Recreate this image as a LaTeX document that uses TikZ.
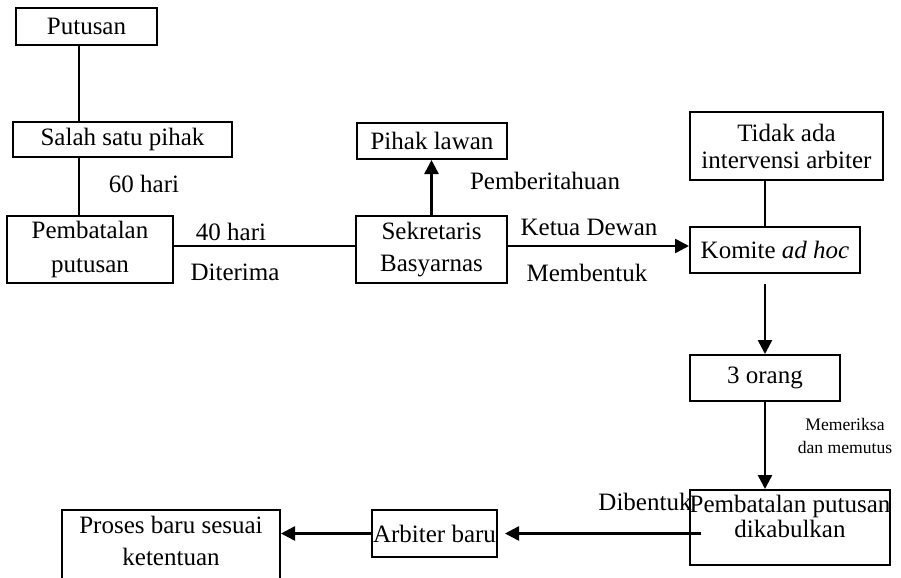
\documentclass[tikz,border=0pt]{standalone}
\usepackage{fontspec}
\setmainfont{Liberation Serif}
\usetikzlibrary{arrows.meta}
\begin{document}
\begin{tikzpicture}[x=0.5pt,y=-0.5pt,
  every node/.style={font=\fontsize{12.5pt}{16pt}\selectfont},
  box/.style={draw, line width=1pt, inner sep=0pt, align=center},
  lbl/.style={inner sep=0pt, align=center},
  small/.style={inner sep=0pt, align=center, font=\fontsize{8.8pt}{11.5pt}\selectfont},
  link/.style={line width=1pt},
  flow/.style={line width=1.3pt, -{Triangle[length=7pt,width=7pt]}}]
\clip (0,0) rectangle (901,578);

% boxes
\node[box, minimum width=70.5pt, minimum height=18.5pt] (put) at (86.5,26.5) {Putusan};
\node[box, minimum width=109.5pt, minimum height=17.5pt] (salah) at (122.5,139.5) {Salah satu pihak};
\node[box, minimum width=83pt, minimum height=33.5pt, font=\fontsize{12.5pt}{17pt}\selectfont] (pemb) at (90,249.5) {Pembatalan\\putusan};
\node[box, minimum width=75.5pt, minimum height=33.5pt] (sek) at (431.5,249.5) {Sekretaris\\Basyarnas};
\node[box, minimum width=75pt, minimum height=18pt] (pihak) at (432,141) {Pihak lawan};
\node[box, minimum width=96.5pt, minimum height=34pt, font=\fontsize{12.5pt}{13.5pt}\selectfont] (tidak) at (786.5,146) {Tidak ada\\intervensi arbiter};
\node[box, minimum width=85pt, minimum height=23pt] (komite) at (775,250) {Komite \textit{ad hoc}};
\node[box, minimum width=75pt, minimum height=23pt] (tiga) at (765,378) {3 orang};
\node[box, minimum width=100pt, minimum height=37.5pt] (dik) at (790,527.5) {};
\node[lbl, font=\fontsize{12.5pt}{12.5pt}\selectfont] (dikt) at (790,516) {Pembatalan putusan\\dikabulkan};
\node[box, minimum width=62.5pt, minimum height=23.5pt] (arb) at (434.5,533.5) {Arbiter baru};
\node[box, minimum width=109pt, minimum height=50pt] (proses) at (171,560) {};
\node[lbl] (prosest) at (171,541) {Proses baru sesuai\\ketentuan};

% reference lines for connectors
\coordinate (vx) at (79,0);
\coordinate (hy) at (0,246);

% connectors
\draw[link] (put.south -| vx) -- (salah.north -| vx);
\draw[link] (salah.south -| vx) -- (pemb.north -| vx);
\draw[link] (pemb.east |- hy) -- (sek.west |- hy);
\draw[flow] (sek.north) -- (pihak.south -| sek.north);
\draw[flow] (sek.east |- hy) -- (komite.west |- hy);
\draw[link] (tidak.south -| tiga.north) -- (komite.north -| tiga.north);
\draw[flow] ([yshift=-5pt]komite.south -| tiga.north) -- (tiga.north);
\draw[flow] (tiga.south) -- (dik.north -| tiga.south);
\draw[flow, shorten >=3.5pt] ([xshift=6pt]dik.west |- arb.east) -- (arb.east);
\draw[flow] (arb.west) -- (proses.east |- arb.west);

% connector labels
\node[lbl] (l60) at (144,184) {60 hari};
\node[lbl] (l40) at (231,232) {40 hari};
\node[lbl] (lditerima) at (235,272) {Diterima};
\node[lbl] (lberi) at (545,181) {Pemberitahuan};
\node[lbl] (lketua) at (589,227) {Ketua Dewan};
\node[lbl] (lbentuk) at (587,273) {Membentuk};
\node[small] (lperiksa) at (845,436) {Memeriksa\\dan memutus};
\node[lbl] (ldibentuk) at (645,502) {Dibentuk};
\end{tikzpicture}
\end{document}
